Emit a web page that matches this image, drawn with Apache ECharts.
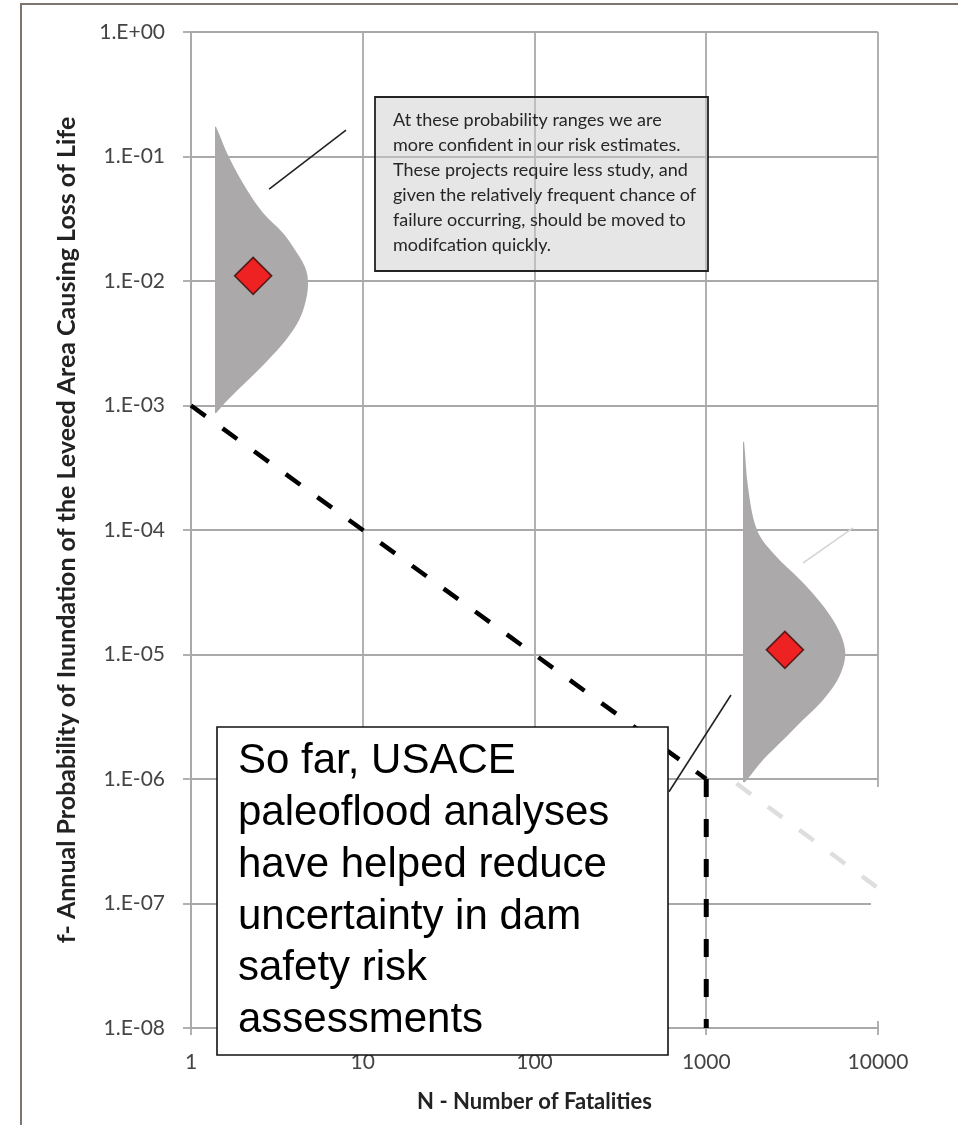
<!DOCTYPE html>
<html>
<head>
<meta charset="utf-8">
<script src="https://cdn.jsdelivr.net/npm/echarts@6/dist/echarts.min.js"></script>
<style>
  html, body { margin: 0; padding: 0; background: #fff; }
  #chart { width: 958px; height: 1125px; }
</style>
</head>
<body>
<div id="chart"></div>
<script>
// F-N chart: annual probability of inundation vs. number of fatalities (log-log)

// Tolerable-risk guideline
const guidelineMain = [[1, 1e-3], [1000, 1e-6]];
const guidelineLimit = [[1000, 1e-6], [1000, 1e-8]];
const guidelineFaded = [[1500, 9.2e-7], [10000, 1.33e-7]];

// Best estimates (N, f)
const estimateFrequent = [2.3, 0.011];
const estimateRare = [2870, 1.09e-5];

// Uncertainty spread around each estimate: probability levels and outer N of the density
const spreadFrequentBaseN = 1.38;
const spreadFrequentF = [0.1726, 0.0991, 0.0538, 0.0352, 0.0243, 0.01875, 0.01295, 0.00982, 0.00703, 0.00486, 0.00336, 0.00232, 0.0016, 0.00111, 0.00087];
const spreadFrequentN = [1.40, 1.66, 2.12, 2.63, 3.43, 3.93, 4.61, 4.80, 4.67, 4.26, 3.57, 2.81, 2.15, 1.64, 1.40];

const spreadRareBaseN = 1637;
const spreadRareF = [5.09e-4, 2.22e-4, 1.0e-4, 6.53e-5, 3.48e-5, 1.89e-5, 1.09e-5, 6.84e-6, 4.31e-6, 2.98e-6, 2.06e-6, 1.42e-6, 9.46e-7];
const spreadRareN = [1660, 1750, 1975, 2448, 3862, 5470, 6428, 6010, 4786, 3657, 2799, 2138, 1682];

// Leader lines for the call-outs
const leaderUpper = [[2.85, 0.0548], [7.99, 0.163]];
const leaderLower = [[607, 7.9e-7], [1393, 4.73e-6]];
const leaderFaint = [[3659, 5.43e-5], [7150, 1.04e-4]];

const noteUpper = [
  'At these probability ranges we are',
  'more confident in our risk estimates.',
  'These projects require less study, and',
  'given the relatively frequent chance of',
  'failure occurring, should be moved to',
  'modifcation quickly.'
];
const noteLower = [
  'So far, USACE',
  'paleoflood analyses',
  'have helped reduce',
  'uncertainty in dam',
  'safety risk',
  'assessments'
];

const GRID = '#a9a9a9';
const LABEL = '#444';
const TITLE = '#222';

function expLabel(v) {
  const e = Math.round(Math.log10(v));
  const a = Math.abs(e);
  return '1.E' + (e >= 0 ? '+' : '-') + (a < 10 ? '0' + a : '' + a);
}

function spreadSeries(baseN, fArr, nArr) {
  return {
    type: 'custom',
    z: 3,
    silent: true,
    data: [0],
    renderItem: function (params, api) {
      const pts = [api.coord([baseN, fArr[0]])];
      for (let i = 0; i < fArr.length; i++) pts.push(api.coord([nArr[i], fArr[i]]));
      pts.push(api.coord([baseN, fArr[fArr.length - 1]]));
      return {
        type: 'polyline',
        shape: { points: pts, smooth: 0.35 },
        style: { fill: '#aba9a9', stroke: null }
      };
    }
  };
}

function plainLine(data, color, width, dash, z) {
  return {
    type: 'line',
    data: data,
    showSymbol: false,
    silent: true,
    z: z,
    lineStyle: { color: color, width: width, type: dash, cap: 'butt' }
  };
}

const chart = echarts.init(document.getElementById('chart'), null, { renderer: 'canvas' });

chart.setOption({
  animation: false,
  backgroundColor: '#fff',
  grid: { left: 191, right: 80, top: 32, bottom: 97 },
  xAxis: {
    type: 'log',
    logBase: 10,
    min: 1,
    max: 10000,
    splitNumber: 4,
    name: 'N - Number of Fatalities',
    nameLocation: 'middle',
    nameGap: 63,
    nameTextStyle: { fontFamily: 'Lato', fontWeight: 'bold', fontSize: 22, color: TITLE },
    axisLine: { show: true, lineStyle: { color: GRID, width: 1.8 } },
    axisTick: { show: true, length: 7, lineStyle: { color: GRID, width: 1.8 } },
    axisLabel: { fontFamily: 'Lato', fontSize: 21, color: LABEL, margin: 24,
      formatter: function (v) { return String(Math.round(v)); } },
    splitLine: { show: true, lineStyle: { color: GRID, width: 1.8 } },
    minorTick: { show: false }
  },
  yAxis: {
    type: 'log',
    logBase: 10,
    min: 1e-8,
    max: 1,
    splitNumber: 8,
    name: 'f- Annual Probability of Inundation of the Leveed Area Causing Loss of Life',
    nameLocation: 'middle',
    nameRotate: 90,
    nameGap: 112,
    nameTextStyle: { fontFamily: 'Lato', fontWeight: 'bold', fontSize: 25, color: TITLE },
    axisLine: { show: true, lineStyle: { color: GRID, width: 1.8 } },
    axisTick: { show: true, length: 8, lineStyle: { color: GRID, width: 1.8 } },
    axisLabel: { fontFamily: 'Lato', fontSize: 21, color: LABEL, margin: 26, formatter: expLabel },
    splitLine: { show: true, lineStyle: { color: GRID, width: 1.8 } }
  },
  series: [
    spreadSeries(spreadFrequentBaseN, spreadFrequentF, spreadFrequentN),
    spreadSeries(spreadRareBaseN, spreadRareF, spreadRareN),
    plainLine(guidelineFaded, '#dedede', 4.5, [18, 21], 4),
    plainLine(guidelineMain, '#000', 4.5, [18, 21], 5),
    plainLine(guidelineLimit, '#000', 5, [18, 22], 5),
    plainLine(leaderUpper, '#222', 1.6, 'solid', 5),
    plainLine(leaderLower, '#222', 1.6, 'solid', 5),
    plainLine(leaderFaint, '#d6d6d6', 1.6, 'solid', 5),
    {
      type: 'scatter',
      z: 6,
      silent: true,
      symbol: 'diamond',
      symbolSize: 37,
      itemStyle: { color: '#ff0000', borderColor: '#3a0a0a', borderWidth: 1.6 },
      data: [estimateFrequent, estimateRare]
    }
  ],
  graphic: [
    // outer frame
    {
      type: 'rect', z: 20, silent: true,
      shape: { x: 21, y: 4, width: 1000, height: 1200 },
      style: { fill: null, stroke: '#7d756e', lineWidth: 2 }
    },
    // gap in the right border of the plot area
    {
      type: 'rect', z: 1, silent: true,
      shape: { x: 871, y: 787, width: 14, height: 234 },
      style: { fill: '#fff' }
    },
    // upper call-out
    {
      type: 'group', z: 10, silent: true,
      children: [
        {
          type: 'rect', z: 10,
          shape: { x: 375, y: 97, width: 333, height: 174 },
          style: { fill: 'rgba(205,205,205,0.5)', stroke: '#222', lineWidth: 1.8 }
        },
        {
          type: 'text', z: 11,
          x: 393, y: 108,
          style: {
            text: noteUpper.join('\n'),
            fontFamily: 'Lato', fontSize: 18, lineHeight: 25,
            fill: '#262626', verticalAlign: 'top', align: 'left'
          }
        }
      ]
    },
    // lower call-out
    {
      type: 'group', z: 10, silent: true,
      children: [
        {
          type: 'rect', z: 10,
          shape: { x: 217, y: 727, width: 451, height: 328 },
          style: { fill: '#fff', stroke: '#111', lineWidth: 1.6 }
        },
        {
          type: 'text', z: 11,
          x: 238, y: 736,
          style: {
            text: noteLower.join('\n'),
            fontFamily: 'Liberation Sans', fontSize: 42, lineHeight: 51.7,
            fill: '#000', verticalAlign: 'top', align: 'left'
          }
        }
      ]
    }
  ]
});
</script>
</body>
</html>
